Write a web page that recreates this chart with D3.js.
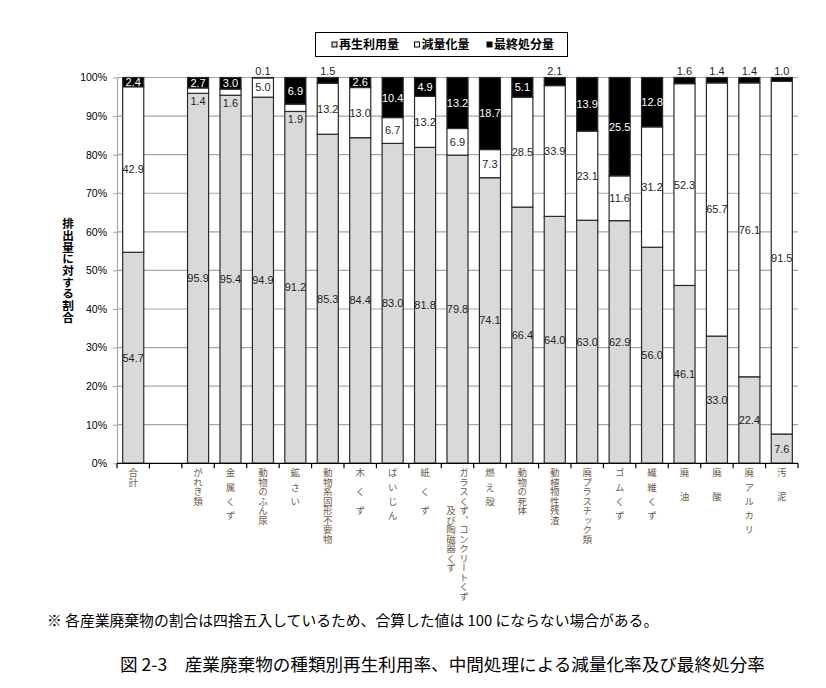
<!DOCTYPE html>
<html><head><meta charset="utf-8">
<script src="https://cdn.jsdelivr.net/npm/d3@7"></script>
<style>body{margin:0;background:#fff}svg{display:block}</style>
</head><body>
<svg id="c" width="826" height="688"></svg>
<script>
// ---- data ----
const categories = [
  "合計", "",
  "がれき類",
  "金\u2002属\u2002く\u2002ず",
  "動物のふん尿",
  "鉱\u2002さ\u2002い",
  "動物系固形不要物",
  "木\u3000く\u3000ず",
  "ば\u2002い\u2002じ\u2002ん",
  "紙\u3000く\u3000ず",
  "ガラスくず、コンクリートくず\n\u3000\u3000\u3000\u3000及び陶磁器くず",
  "燃\u2002え\u2002殻",
  "動物の死体",
  "動植物性残渣",
  "廃プラスチック類",
  "ゴ\u2002ム\u2002く\u2002ず",
  "繊\u2002維\u2002く\u2002ず",
  "廃\u3000\u2002油",
  "廃\u3000\u2002酸",
  "廃\u2002ア\u2002ル\u2002カ\u2002リ",
  "汚\u3000\u2002泥"
];
const recycle   = [54.7, null, 95.9, 95.4, 94.9, 91.2, 85.3, 84.4, 83.0, 81.8, 79.8, 74.1, 66.4, 64.0, 63.0, 62.9, 56.0, 46.1, 33.0, 22.4, 7.6];
const reduction = [42.9, null, 1.4, 1.6, 5.0, 1.9, 13.2, 13.0, 6.7, 13.2, 6.9, 7.3, 28.5, 33.9, 23.1, 11.6, 31.2, 52.3, 65.7, 76.1, 91.5];
const finalDisp = [2.4, null, 2.7, 3.0, 0.1, 6.9, 1.5, 2.6, 10.4, 4.9, 13.2, 18.7, 5.1, 2.1, 13.9, 25.5, 12.8, 1.6, 1.4, 1.4, 1.0];
const seriesNames = ["再生利用量", "減量化量", "最終処分量"];
const yTicks = [0, 0.1, 0.2, 0.3, 0.4, 0.5, 0.6, 0.7, 0.8, 0.9, 1.0];
const yTitle = "排出量に対する割合";
const note = "※ 各産業廃棄物の割合は四捨五入しているため、合算した値は 100 にならない場合がある。";
const title = "図 2-3\u3000産業廃棄物の種類別再生利用率、中間処理による減量化率及び最終処分率";

// ---- setup ----
const keys = ["recycle", "reduction", "final"];
const fills = {recycle: "#d9d9d9", reduction: "#ffffff", final: "#000000"};
const svg = d3.select("#c");
const L = 117, R = 798, B = 463.3, T = 77.5;
const x = d3.scaleBand().domain(d3.range(categories.length)).range([L, R])
  .paddingInner(0.35).paddingOuter(0.175);
const y = d3.scaleLinear().domain([0, 1]).range([B, T]);
const numFont = "'Liberation Sans', Arial, sans-serif";
const jp = "'Noto Sans CJK JP', sans-serif";

// gridlines
svg.append("g").selectAll("line").data(yTicks.filter(d => d > 0)).join("line")
  .attr("x1", L).attr("x2", R).attr("y1", d => y(d)).attr("y2", d => y(d))
  .attr("stroke", "#a6a6a6").attr("stroke-width", 1.2);

// y axis
const ya = svg.append("g").attr("transform", `translate(${L},0)`)
  .call(d3.axisLeft(y).tickValues(yTicks).tickFormat(d3.format(".0%")).tickSize(4).tickSizeOuter(0).tickPadding(6));
ya.select(".domain").attr("stroke", "#a6a6a6").attr("stroke-width", 1.2);
ya.selectAll(".tick line").attr("stroke", "#a6a6a6");
ya.selectAll(".tick text").attr("font-family", numFont).attr("font-size", 10.5).attr("fill", "#000");

// stack
const rows = categories.map((c, i) => ({i, recycle: recycle[i], reduction: reduction[i], final: finalDisp[i]}))
  .filter(d => d.recycle != null);
const series = d3.stack().keys(keys).offset(d3.stackOffsetExpand)(rows);

svg.append("g").selectAll("g").data(series).join("g")
  .attr("fill", s => fills[s.key])
  .selectAll("rect").data(s => s).join("rect")
  .attr("x", d => x(d.data.i)).attr("width", x.bandwidth())
  .attr("y", d => y(d[1])).attr("height", d => y(d[0]) - y(d[1]))
  .attr("stroke", "#2a2a2a").attr("stroke-width", 1.2);

// x axis
const step = x.step(), half = step * x.paddingInner() / 2;
const bounds = d3.range(categories.length).map(i => x(i) - half).concat([x(categories.length - 1) + x.bandwidth() + half]);
svg.append("line").attr("x1", L).attr("x2", R).attr("y1", B).attr("y2", B).attr("stroke", "#000").attr("stroke-width", 1.3);
svg.append("g").selectAll("line").data(bounds).join("line")
  .attr("x1", d => d).attr("x2", d => d).attr("y1", B).attr("y2", B + 5)
  .attr("stroke", "#000").attr("stroke-width", 1.2);

// data labels
const labels = [];
series.forEach(s => s.forEach(d => {
  const v = d.data[s.key];
  const cx = x(d.data.i) + x.bandwidth() / 2;
  let cy = (y(d[0]) + y(d[1])) / 2, col = "#1e1e2a";
  if (s.key === "final") {
    if (v < 2.3) cy = y(1) - 6; else col = "#ffffff";
  } else if (s.key === "reduction" && v < 2) {
    cy = y(d[0]) + 8;
  }
  labels.push({cx, cy, col, t: d3.format(".1f")(v)});
}));
svg.append("g").selectAll("text").data(labels).join("text")
  .attr("x", d => d.cx).attr("y", d => d.cy).attr("dy", "0.36em")
  .attr("text-anchor", "middle").attr("font-family", numFont).attr("font-size", 11)
  .attr("fill", d => d.col).text(d => d.t);

// category labels (vertical)
const catLines = [];
categories.forEach((c, i) => {
  const lines = c.split("\n");
  lines.forEach((ln, j) => catLines.push({i, t: ln, off: ((lines.length - 1) / 2 - j) * 13}));
});
svg.append("g").selectAll("text").data(catLines).join("text")
  .attr("x", d => x(d.i) + x.bandwidth() / 2 + d.off).attr("y", 468)
  .style("writing-mode", "vertical-rl")
  .attr("font-family", jp).attr("font-size", 9.5).attr("fill", "#6e5d48")
  .text(d => d.t);

// y title
svg.append("text").attr("x", 68).attr("y", 218).style("writing-mode", "vertical-rl")
  .attr("font-family", jp).attr("font-size", 11.7).attr("font-weight", "bold").attr("fill", "#000")
  .text(yTitle);

// legend
const lg = svg.append("g");
lg.append("rect").attr("x", 315.5).attr("y", 32.5).attr("width", 252).attr("height", 24)
  .attr("fill", "#fff").attr("stroke", "#000").attr("stroke-width", 1);
const lgX = [331.5, 414, 486.5];
const lgi = lg.selectAll("g").data(keys).join("g").attr("transform", (k, i) => `translate(${lgX[i]},0)`);
lgi.append("rect").attr("x", 0.5).attr("y", 42).attr("width", 5).attr("height", 5)
  .attr("fill", k => fills[k]).attr("stroke", "#000").attr("stroke-width", 1);
lgi.append("text").attr("x", 7.5).attr("y", 49).attr("font-family", jp).attr("font-size", 12)
  .attr("font-weight", "bold").attr("fill", "#000").text((k, i) => seriesNames[i]);

// note and caption
svg.append("text").attr("x", 47).attr("y", 626).attr("font-family", jp).attr("font-size", 14.8)
  .attr("fill", "#000").text(note);
svg.append("text").attr("x", 120).attr("y", 671).attr("font-family", jp).attr("font-size", 17.6)
  .attr("fill", "#000").style("white-space", "pre").text(title);
</script>
</body></html>
